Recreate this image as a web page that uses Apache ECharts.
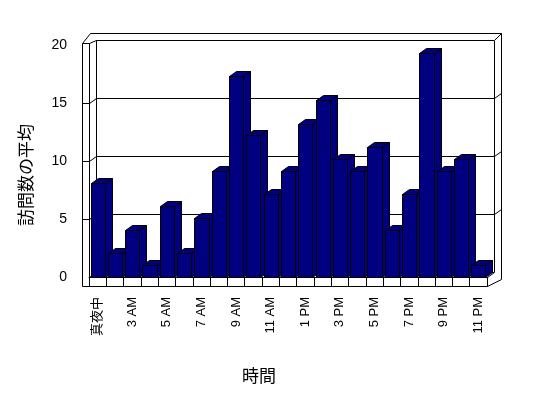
<!DOCTYPE html>
<html>
<head>
<meta charset="utf-8">
<script src="https://cdn.jsdelivr.net/npm/echarts@6.0.0/dist/echarts.min.js"></script>
<style>
  html, body { margin: 0; padding: 0; background: #fff; }
  #chart { width: 548px; height: 398px; }
</style>
</head>
<body>
<div id="chart"></div>
<script>
// 時間帯（2 AM はデータなし）
const hours = ['真夜中', '1 AM', '3 AM', '4 AM', '5 AM', '6 AM', '7 AM', '8 AM', '9 AM', '10 AM', '11 AM', '正午',
  '1 PM', '2 PM', '3 PM', '4 PM', '5 PM', '6 PM', '7 PM', '8 PM', '9 PM', '10 PM', '11 PM']
// 訪問数の平均
const visits = [8, 2, 4, 1, 6, 2, 5, 9, 17, 12, 7, 9, 13, 15, 10, 9, 11, 4, 7, 19, 9, 10, 1]
const yMin = 0
const yMax = 20
const yStep = 5

const FONT = '"Liberation Sans", "Noto Sans CJK JP", sans-serif'
const NAVY = '#000080'
// 奥行き（手前→奥）
const DX = 7
const DY = 5

const crisp = (x, y) => [Math.round(x) + 0.5, Math.round(y) + 0.5]
const line = (pts) => ({
  type: 'polyline',
  shape: { points: pts.map(p => crisp(p[0], p[1])) },
  style: { fill: null, stroke: '#000', lineWidth: 1 }
})

// 3D風の枠（奥の壁・左の壁・床）
function renderFrame(params, api) {
  const bl = api.coord([0, yMin])
  const br = api.coord([1, yMin])
  const tl = api.coord([0, yMax])
  const tr = api.coord([1, yMax])
  const fx = bl[0] - DX          // 手前の左端
  const fy = bl[1] + DY          // 手前の床
  const fr = br[0] - DX          // 手前の右端
  const wall = 7
  const floor = 9
  const children = [
    // 外側の輪郭
    line([[fx - wall, tl[1] + 3], [tl[0] - 6, tl[1] - wall], [tr[0] + wall, tr[1] - wall],
      [tr[0] + wall, br[1] + wall], [fr, fy + floor], [fx - wall, fy + floor], [fx - wall, tl[1] + 3]]),
    // 左の壁
    line([[fx, fy], [fx, tl[1] + 3], [tl[0], tl[1]]]),
    line([[fx - wall, tl[1] + 3], [fx, tl[1] + 3]]),
    line([tl, bl]),
    line([[bl[0], bl[1]], [fx, fy]]),
    // 右側
    line([tr, br]),
    line([tr, [tr[0] + wall, tr[1] - wall]]),
    line([[fr, fy], br]),
    line([[fr, fy], [fr, fy + floor]])
  ]
  // 目盛線の壁への折り返し
  for (let v = yMin + yStep; v < yMax; v += yStep) {
    const p = api.coord([0, v])
    const q = api.coord([1, v])
    children.push(line([p, [p[0] - DX, p[1] + DY], [p[0] - DX - wall, p[1] + DY]]))
    children.push(line([q, [q[0] + DX, q[1] - DY]]))
  }
  return { type: 'group', children }
}

// 3D風の棒
function renderBar(params, api) {
  const top = api.coord([api.value(0), api.value(1)])
  const base = api.coord([api.value(0), 0])
  const half = api.size([1, 0])[0] * 0.41
  const l = top[0] - half
  const r = top[0] + half
  const t = top[1]
  const b = base[1]
  const style = { fill: NAVY, stroke: '#000', lineWidth: 1 }
  const P = (x, y) => crisp(x, y)
  return {
    type: 'group',
    children: [
      { type: 'polygon', shape: { points: [P(r, t), P(r + DX, t - DY), P(r + DX, b - DY), P(r, b)] }, style },
      { type: 'polygon', shape: { points: [P(l, t), P(r, t), P(r + DX, t - DY), P(l + DX, t - DY)] }, style },
      { type: 'polygon', shape: { points: [P(l, t), P(r, t), P(r, b), P(l, b)] }, style }
    ]
  }
}

const chart = echarts.init(document.getElementById('chart'))
const option = {
  backgroundColor: '#fff',
  animation: false,
  grid: [
    { left: 89, top: 41, width: 398, height: 236 },   // 棒（手前）
    { left: 96, top: 40, width: 398, height: 232 },   // 奥の壁
    { left: 82, top: 45, width: 398, height: 232 }    // 目盛ラベル
  ],
  xAxis: [
    {
      gridIndex: 0,
      type: 'category',
      data: hours,
      boundaryGap: true,
      axisLine: { show: true, lineStyle: { color: '#000', width: 1 } },
      axisTick: { show: true, interval: 0, length: 9, lineStyle: { color: '#000' } },
      axisLabel: {
        interval: 1,
        rotate: 90,
        margin: 20,
        color: '#000',
        fontSize: 13,
        fontFamily: FONT
      },
      splitLine: { show: false }
    },
    { gridIndex: 1, type: 'value', min: 0, max: 1, show: false },
    { gridIndex: 2, type: 'value', min: 0, max: 1, show: false }
  ],
  yAxis: [
    { gridIndex: 0, type: 'value', min: yMin, max: yMax, interval: yStep, show: false },
    {
      gridIndex: 1,
      type: 'value',
      min: yMin,
      max: yMax,
      interval: yStep,
      axisLine: { show: false },
      axisTick: { show: false },
      axisLabel: { show: false },
      splitLine: { show: true, lineStyle: { color: '#000', width: 1 } }
    },
    {
      gridIndex: 2,
      type: 'value',
      min: yMin,
      max: yMax,
      interval: yStep,
      axisLine: { show: false },
      axisTick: { show: false },
      splitLine: { show: false },
      axisLabel: { margin: 15, color: '#000', fontSize: 14, fontFamily: FONT }
    }
  ],
  graphic: [
    {
      type: 'text',
      x: 27,
      y: 175,
      rotation: Math.PI / 2,
      style: {
        text: '訪問数の平均',
        fill: '#000',
        font: '17px ' + FONT,
        textAlign: 'center',
        textVerticalAlign: 'middle'
      }
    },
    {
      type: 'text',
      x: 259,
      y: 377,
      style: {
        text: '時間',
        fill: '#000',
        font: '17px ' + FONT,
        textAlign: 'center',
        textVerticalAlign: 'middle'
      }
    }
  ],
  series: [
    {
      name: 'frame',
      type: 'custom',
      xAxisIndex: 1,
      yAxisIndex: 1,
      z: 1,
      silent: true,
      renderItem: renderFrame,
      data: [[0, 0]]
    },
    {
      name: '訪問数の平均',
      type: 'custom',
      xAxisIndex: 0,
      yAxisIndex: 0,
      z: 3,
      renderItem: renderBar,
      encode: { x: 0, y: 1 },
      data: visits.map((v, i) => [i, v])
    }
  ]
}
chart.setOption(option)
</script>
</body>
</html>
